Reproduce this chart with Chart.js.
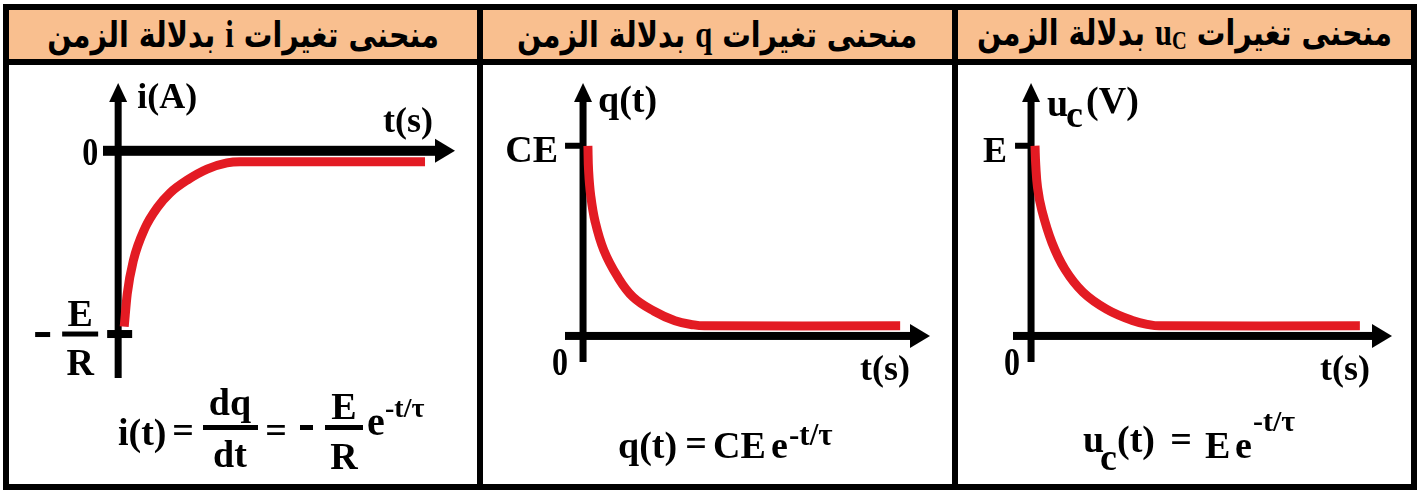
<!DOCTYPE html>
<html lang="ar">
<head>
<meta charset="utf-8">
<script src="https://cdn.jsdelivr.net/npm/chart.js@4.4.1/dist/chart.umd.min.js"></script>
<style>
  body { margin: 0; width: 1424px; height: 490px; background: #fff; position: relative; overflow: hidden; }
  .frame { position: absolute; left: 3px; top: 4px; width: 1414px; height: 486px; background: #000; }
  .head {
    position: absolute; top: 10px; height: 49px; background: #f9bf8f;
    display: flex; align-items: center; justify-content: center;
    font-family: "DejaVu Sans", sans-serif; font-weight: bold; font-size: 28px; color: #000;
  }
  .head span { display: inline-block; transform: scale(1.02, 1.25); margin-top: -2px; }
  .head b { font-family: "Liberation Serif", serif; font-size: 30px; }
  .head sub { font-family: "Liberation Serif", serif; font-size: 20px; font-weight: bold; vertical-align: -3px; }
  .cell { position: absolute; top: 65px; height: 419px; background: #fff; }
  canvas { display: block; }
</style>
</head>
<body>
<div class="frame"></div>

<div class="head" style="left:9px;width:468px"><span dir="rtl">منحنى تغيرات <b>i</b> بدلالة الزمن</span></div>
<div class="head" style="left:483px;width:469px"><span dir="rtl">منحنى تغيرات <b>q</b> بدلالة الزمن</span></div>
<div class="head" style="left:958px;width:453px"><span dir="rtl">منحنى تغيرات <b>u<sub>C</sub></b> بدلالة الزمن</span></div>

<div class="cell" style="left:9px;width:468px"><canvas id="chart-current" width="468" height="419"></canvas></div>
<div class="cell" style="left:483px;width:469px"><canvas id="chart-charge" width="469" height="419"></canvas></div>
<div class="cell" style="left:958px;width:453px"><canvas id="chart-voltage" width="453" height="419"></canvas></div>

<script>
// values (t in arbitrary units, y relative to E/R, CE, E)
const timeCurrent = [0.18, 0.27, 0.45, 0.8, 1.16, 1.54, 2.05, 2.64, 3.23, 3.62, 9.11];
const valueCurrent = [-0.96, -0.78, -0.6, -0.42, -0.31, -0.23, -0.16, -0.1, -0.066, -0.06, -0.06];

const timeCharge = [0.14, 0.16, 0.22, 0.35, 0.6, 1.0, 1.44, 2.05, 2.65, 3.2, 3.5, 9.14];
const valueCharge = [1.0, 0.87, 0.74, 0.6, 0.45, 0.31, 0.205, 0.13, 0.08, 0.058, 0.053, 0.053];

const timeVoltage = [0.11, 0.13, 0.18, 0.3, 0.58, 0.94, 1.44, 2.1, 2.83, 3.3, 3.55, 9.11];
const valueVoltage = [1.0, 0.9, 0.78, 0.66, 0.49, 0.35, 0.23, 0.14, 0.08, 0.058, 0.053, 0.053];

// tick labels on the vertical axes
const tickCurrent = ["E", "R"];   // drawn as -E/R at value -1
const tickCharge = ["CE"];        // at value 1
const tickVoltage = ["E"];        // at value 1

const RED = "#e31b23";
const SERIF = '"Liberation Serif", "Times New Roman", serif';

function txt(ctx, s, x, y, size, align, sx) {
    ctx.save();
    ctx.font = "bold " + size + "px " + SERIF;
    ctx.textAlign = align || "left";
    ctx.textBaseline = "alphabetic";
    ctx.translate(x, y);
    ctx.scale(sx || 1, 1);
    ctx.fillText(s, 0, 0);
    ctx.restore();
}

// draws arrows for both axes, crossing at value 0
function drawAxes(chart, o) {
    const ctx = chart.ctx;
    const a = chart.chartArea;
    const x0 = chart.scales.x.getPixelForValue(0);
    const y0 = chart.scales.y.getPixelForValue(0);
    ctx.save();
    ctx.fillStyle = "#000";
    // horizontal
    ctx.fillRect(a.left, y0 - o.hw / 2, a.right - 16 - a.left, o.hw);
    ctx.beginPath();
    ctx.moveTo(a.right, y0);
    ctx.lineTo(a.right - 20, y0 - 12);
    ctx.lineTo(a.right - 20, y0 + 12);
    ctx.closePath();
    ctx.fill();
    // vertical
    ctx.fillRect(x0 - o.vw / 2, a.top + 14, o.vw, a.bottom - a.top - 14);
    ctx.beginPath();
    ctx.moveTo(x0, a.top);
    ctx.lineTo(x0 - 9, a.top + 19);
    ctx.lineTo(x0 + 9, a.top + 19);
    ctx.closePath();
    ctx.fill();
    // tick mark
    const yt = chart.scales.y.getPixelForValue(o.tickValue);
    ctx.fillRect(x0 - o.tickLeft, yt - o.tickW / 2, o.tickLeft + o.tickRight, o.tickW);
    ctx.restore();
}

const decor = {
    id: "decor",
    beforeDatasetsDraw(chart, args, o) {
        drawAxes(chart, o);
    },
    afterDatasetsDraw(chart, args, o) {
        const ctx = chart.ctx;
        ctx.save();
        ctx.fillStyle = "#000";
        o.draw(ctx, chart, chart.scales.x.getPixelForValue(0), chart.scales.y.getPixelForValue(0));
        ctx.restore();
    }
};

function makeChart(id, times, values, xr, yr, pad, smooth, deco) {
    const canvas = document.getElementById(id);
    if (!canvas) {
        return;
    }
    return new Chart(canvas, {
        type: "line",
        data: {
            datasets: [{
                data: times.map((t, i) => ({ x: t, y: values[i] })),
                borderColor: RED,
                borderWidth: 9,
                borderCapStyle: "butt",
                pointRadius: 0,
                cubicInterpolationMode: smooth,
                tension: 0.4,
                fill: false,
            }],
        },
        options: {
            responsive: false,
            animation: false,
            devicePixelRatio: 1,
            layout: { padding: pad },
            scales: {
                x: { type: "linear", min: xr[0], max: xr[1], display: false },
                y: { type: "linear", min: yr[0], max: yr[1], display: false },
            },
            plugins: {
                legend: { display: false },
                tooltip: { enabled: false },
                decor: deco,
            },
        },
        plugins: [decor],
    });
}

// i(t)
makeChart("chart-current", timeCurrent, valueCurrent, [-0.45, 10], [-1.24, 0.37],
    { left: 94, right: 22, top: 18, bottom: 106 }, "monotone",
    {
        hw: 10, vw: 7, tickValue: -1, tickLeft: 11, tickRight: 14, tickW: 8,
        draw(ctx, chart, x0, y0) {
            const a = chart.chartArea;
            const yt = chart.scales.y.getPixelForValue(-1);
            txt(ctx, "0", x0 - 20, y0 + 14, 40, "right", 0.8);
            txt(ctx, "i(A)", x0 + 19, a.top + 25, 36, "left");
            txt(ctx, "t(s)", a.right - 22, y0 - 19, 36, "right");
            // -E/R
            ctx.fillRect(x0 - 83, yt - 2, 15, 5);
            ctx.fillRect(x0 - 56, yt - 2.5, 36, 5);
            txt(ctx, tickCurrent[0], x0 - 38, yt - 8, 38, "center");
            txt(ctx, tickCurrent[1], x0 - 38, yt + 41, 38, "center");
            // formula
            txt(ctx, "i(t)", 109, 380, 38, "left");
            txt(ctx, "=", 174, 378, 38, "center");
            ctx.fillRect(194, 360, 55, 5);
            txt(ctx, "dq", 221, 350, 38, "center");
            txt(ctx, "dt", 221, 402, 38, "center");
            txt(ctx, "=", 267, 378, 38, "center");
            ctx.fillRect(291, 360, 13, 5);
            ctx.fillRect(316, 360, 38, 5);
            txt(ctx, "E", 335, 354, 38, "center");
            txt(ctx, "R", 335, 404, 38, "center");
            txt(ctx, "e", 358, 370, 40, "left");
            txt(ctx, "-t/τ", 376, 352, 28, "left");
        },
    });

// q(t)
makeChart("chart-charge", timeCharge, valueCharge, [-0.52, 10], [-0.137, 1.33],
    { left: 82, right: 22, top: 18, bottom: 122 }, "default",
    {
        hw: 8, vw: 7, tickValue: 1, tickLeft: 18, tickRight: 0, tickW: 6,
        draw(ctx, chart, x0, y0) {
            const a = chart.chartArea;
            const yt = chart.scales.y.getPixelForValue(1);
            txt(ctx, "0", x0 - 15, y0 + 39, 40, "right", 0.8);
            txt(ctx, "q(t)", x0 + 15, a.top + 29, 38, "left");
            txt(ctx, "t(s)", a.right - 20, y0 + 44, 36, "right");
            txt(ctx, tickCharge[0], x0 - 25, yt + 16, 38, "right");
            // formula
            txt(ctx, "q(t)", 135, 393, 38, "left");
            txt(ctx, "=", 213, 391, 38, "center");
            txt(ctx, "CE", 230, 393, 38, "left");
            txt(ctx, "e", 288, 393, 38, "left");
            txt(ctx, "-t/τ", 306, 380, 31, "left");
        },
    });

// uC(t)
makeChart("chart-voltage", timeVoltage, valueVoltage, [-0.5, 10], [-0.137, 1.33],
    { left: 55, right: 19, top: 18, bottom: 122 }, "default",
    {
        hw: 8, vw: 7, tickValue: 1, tickLeft: 16, tickRight: 0, tickW: 6,
        draw(ctx, chart, x0, y0) {
            const a = chart.chartArea;
            const yt = chart.scales.y.getPixelForValue(1);
            txt(ctx, "0", x0 - 11, y0 + 39, 40, "right", 0.8);
            txt(ctx, "u", x0 + 16, a.top + 33, 38, "left");
            txt(ctx, "c", x0 + 35, a.top + 44, 38, "left");
            txt(ctx, "(V)", x0 + 55, a.top + 30, 38, "left");
            txt(ctx, "t(s)", a.right - 22, y0 + 44, 36, "right");
            txt(ctx, tickVoltage[0], x0 - 24, yt + 16, 36, "right");
            // formula
            txt(ctx, "u", 125, 387, 38, "left");
            txt(ctx, "c", 142, 405, 38, "left");
            txt(ctx, "(t)", 159, 387, 38, "left");
            txt(ctx, "=", 223, 387, 38, "center");
            txt(ctx, "E", 247, 393, 38, "left");
            txt(ctx, "e", 277, 393, 38, "left");
            txt(ctx, "-t/τ", 295, 366, 30, "left");
        },
    });
</script>
</body>
</html>
